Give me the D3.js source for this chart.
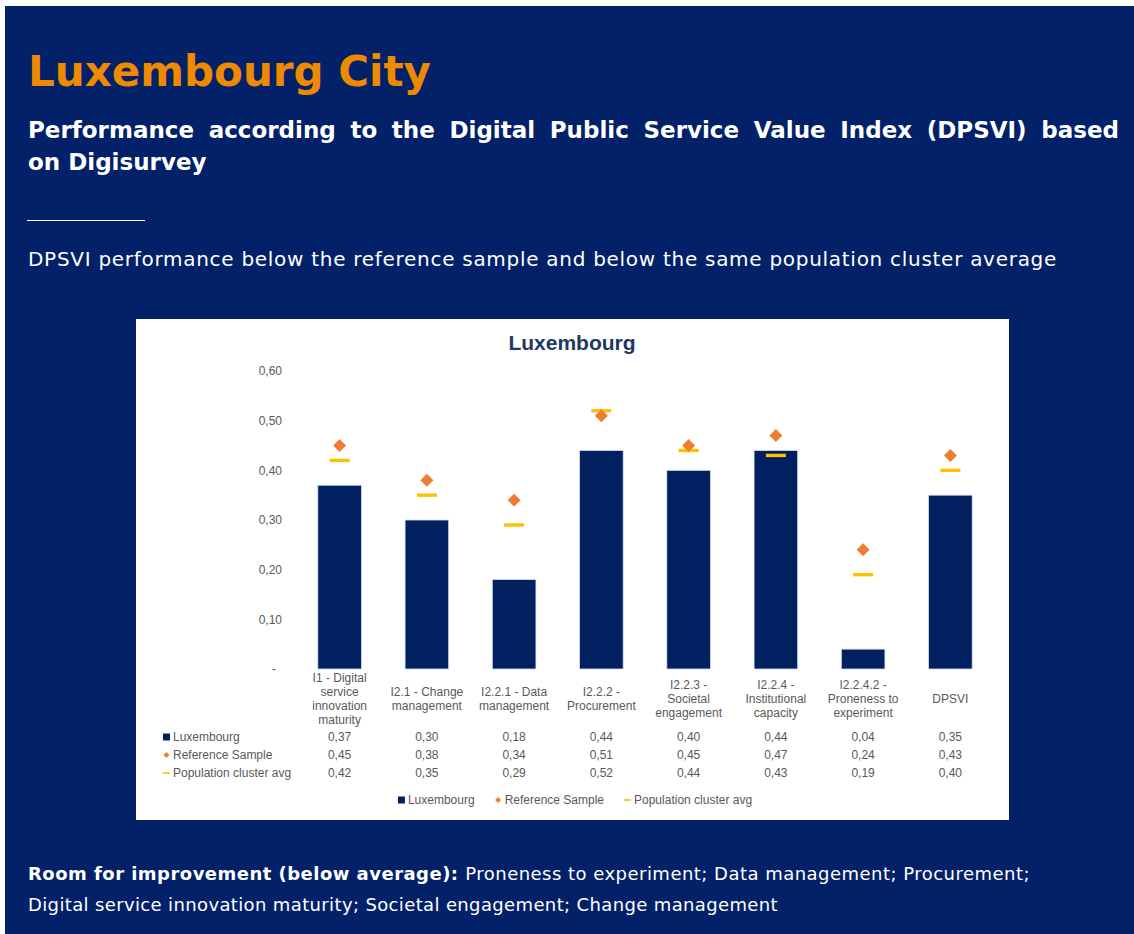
<!DOCTYPE html>
<html>
<head>
<meta charset="utf-8">
<script src="https://cdn.jsdelivr.net/npm/d3@7"></script>
<style>
  body { margin: 0; background: #fff; }
  svg { display: block; }
</style>
</head>
<body>
<svg id="page" width="1134" height="934"></svg>
<script>

// categories, one string per bar, \n marks where the axis label wraps
const categories = [
  'I1 - Digital\nservice\ninnovation\nmaturity',
  'I2.1 - Change\nmanagement',
  'I2.2.1 - Data\nmanagement',
  'I2.2.2 -\nProcurement',
  'I2.2.3 -\nSocietal\nengagement',
  'I2.2.4 -\nInstitutional\ncapacity',
  'I2.2.4.2 -\nProneness to\nexperiment',
  'DPSVI'
];
const luxembourg      = [0.37, 0.30, 0.18, 0.44, 0.40, 0.44, 0.04, 0.35];
const referenceSample = [0.45, 0.38, 0.34, 0.51, 0.45, 0.47, 0.24, 0.43];
const clusterAvg      = [0.42, 0.35, 0.29, 0.52, 0.44, 0.43, 0.19, 0.40];
const yTicks = [0, 0.1, 0.2, 0.3, 0.4, 0.5, 0.6];
const seriesNames = ['Luxembourg', 'Reference Sample', 'Population cluster avg'];

const NAVY = '#022169',
  BAR = '#002060',
  ORANGE = '#ED7D31',
  YELLOW = '#FFC000',
  GREY = '#595959',
  PAGE_FONT = '"DejaVu Sans", Verdana, sans-serif',
  CHART_FONT = '"Liberation Sans", Arial, sans-serif';

var svg = d3.select('#page');

// stretch a text line to a given width with letter spacing (the original font is wider)
function fitWidth(sel, target){
  var w = sel.node().getComputedTextLength();
  var n = sel.text().length;
  sel.attr('letter-spacing', ((target - w) / n).toFixed(3));
}

// justify a line: grow the gaps between words, shrink letters only if it overflows
function justify(sel, target){
  var w = sel.node().getComputedTextLength();
  var txt = sel.text();
  var spaces = txt.split(' ').length - 1;
  if (w <= target) sel.attr('word-spacing', ((target - w) / spaces).toFixed(3));
  else sel.attr('letter-spacing', ((target - w) / txt.length).toFixed(3));
}

// page background
svg.append('rect')
  .attr('x', 5).attr('y', 6)
  .attr('width', 1129).attr('height', 928)
  .attr('fill', NAVY);

svg.append('text')
  .attr('x', 28).attr('y', 86)
  .attr('font-family', PAGE_FONT)
  .attr('font-weight', 'bold')
  .attr('font-size', 42)
  .attr('fill', '#EE8A00')
  .text('Luxembourg City');

// subtitle, first line justified to the right margin
var sub1 = svg.append('text')
  .attr('x', 28).attr('y', 138)
  .attr('font-family', PAGE_FONT)
  .attr('font-weight', 'bold')
  .attr('font-size', 23)
  .attr('fill', '#fff')
  .text('Performance according to the Digital Public Service Value Index (DPSVI) based');
justify(sub1, 1091);

svg.append('text')
  .attr('x', 28).attr('y', 170)
  .attr('font-family', PAGE_FONT)
  .attr('font-weight', 'bold')
  .attr('font-size', 23)
  .attr('fill', '#fff')
  .text('on Digisurvey');

svg.append('line')
  .attr('x1', 27).attr('x2', 145)
  .attr('y1', 220.5).attr('y2', 220.5)
  .attr('stroke', '#fff')
  .attr('stroke-width', 1);

var desc = svg.append('text')
  .attr('x', 28).attr('y', 266)
  .attr('font-family', PAGE_FONT)
  .attr('font-size', 20)
  .attr('fill', '#fff')
  .text('DPSVI performance below the reference sample and below the same population cluster average');
fitWidth(desc, 1029);

var foot = svg.append('g')
  .attr('font-family', PAGE_FONT)
  .attr('font-size', 18)
  .attr('fill', '#fff');
var foot1 = foot.append('text').attr('x', 28).attr('y', 880);
foot1.append('tspan').attr('font-weight', 'bold').text('Room for improvement (below average): ');
foot1.append('tspan').text('Proneness to experiment; Data management; Procurement;');
fitWidth(foot1, 1002);
var foot2 = foot.append('text').attr('x', 28).attr('y', 911)
  .text('Digital service innovation maturity; Societal engagement; Change management');
fitWidth(foot2, 750);

// ---- chart ----
var chart = svg.append('g')
  .attr('font-family', CHART_FONT);

chart.append('rect')
  .attr('x', 136).attr('y', 319)
  .attr('width', 873).attr('height', 501)
  .attr('fill', '#fff');

chart.append('text')
  .attr('x', 572).attr('y', 350)
  .attr('text-anchor', 'middle')
  .attr('font-weight', 'bold')
  .attr('font-size', 21)
  .attr('fill', '#203864')
  .text('Luxembourg');

var x = d3.scaleBand()
  .domain(categories)
  .range([296, 994])
  .paddingInner(0.5)
  .paddingOuter(0.25);

var y = d3.scaleLinear()
  .domain([0, 0.6])
  .range([669, 371]);

var fmt = function(v){ return d3.format('.2f')(v).replace('.', ','); };

var yAxis = chart.append('g')
  .attr('transform', 'translate(282,0)')
  .call(d3.axisLeft(y)
    .tickValues(yTicks)
    .tickSize(0)
    .tickPadding(0)
    .tickFormat(function(d){ return d === 0 ? '-' : fmt(d); }));
yAxis.select('.domain').remove();
yAxis.selectAll('text')
  .attr('font-family', CHART_FONT)
  .attr('font-size', 12)
  .attr('fill', GREY);
yAxis.selectAll('.tick').filter(function(d){ return d === 0; })
  .select('text').attr('dx', -6);

var cx = function(i){ return x(categories[i]) + x.bandwidth() / 2; };

// bars
chart.append('g').selectAll('rect')
  .data(luxembourg)
  .join('rect')
  .attr('x', function(d, i){ return x(categories[i]); })
  .attr('y', function(d){ return y(d); })
  .attr('width', x.bandwidth())
  .attr('height', function(d){ return y(0) - y(d); })
  .attr('fill', BAR)
  .attr('stroke', '#d6deec')
  .attr('stroke-width', 0.8);

// population cluster dashes
chart.append('g').selectAll('rect')
  .data(clusterAvg)
  .join('rect')
  .attr('x', function(d, i){ return cx(i) - 10; })
  .attr('y', function(d){ return y(d) - 1.7; })
  .attr('width', 20)
  .attr('height', 3.4)
  .attr('fill', YELLOW);

// reference sample diamonds
var diamond = d3.symbol(d3.symbolSquare, 84);
chart.append('g').selectAll('path')
  .data(referenceSample)
  .join('path')
  .attr('d', diamond)
  .attr('transform', function(d, i){ return 'translate(' + cx(i) + ',' + y(d) + ') rotate(45)'; })
  .attr('fill', ORANGE);

// category labels
var catLabels = chart.append('g')
  .attr('font-size', 12)
  .attr('fill', GREY)
  .attr('text-anchor', 'middle')
  .selectAll('text')
  .data(categories)
  .join('text')
  .attr('x', function(d){ return x(d) + x.bandwidth() / 2; })
  .attr('y', function(d){ return 699 - (d.split('\n').length - 1) * 7 + 4; });
catLabels.each(function(d){
  var t = d3.select(this);
  d.split('\n').forEach(function(line, k){
    t.append('tspan')
      .attr('x', t.attr('x'))
      .attr('dy', k === 0 ? 0 : 14)
      .text(line);
  });
});

// key glyphs shared by data table and legend
function keyGlyph(g, k){
  if (k === 0) {
    g.append('rect').attr('x', 0).attr('y', -3.5).attr('width', 7).attr('height', 7).attr('fill', BAR);
  } else if (k === 1) {
    g.append('path').attr('d', d3.symbol(d3.symbolSquare, 18)).attr('transform', 'translate(3.5,0) rotate(45)').attr('fill', ORANGE);
  } else {
    g.append('rect').attr('x', 0).attr('y', -0.8).attr('width', 7).attr('height', 1.6).attr('fill', YELLOW);
  }
}

// data table
var tableRows = [luxembourg, referenceSample, clusterAvg];
var rowY = [737, 755, 773];
tableRows.forEach(function(vals, k){
  var row = chart.append('g')
    .attr('font-size', 12)
    .attr('fill', GREY);
  var key = row.append('g').attr('transform', 'translate(163,' + rowY[k] + ')');
  keyGlyph(key, k);
  row.append('text')
    .attr('x', 173).attr('y', rowY[k] + 4)
    .text(seriesNames[k]);
  row.selectAll('text.val')
    .data(vals)
    .join('text')
    .attr('class', 'val')
    .attr('x', function(d, i){ return cx(i); })
    .attr('y', rowY[k] + 4)
    .attr('text-anchor', 'middle')
    .text(fmt);
});

// legend
var legend = chart.append('g')
  .attr('font-size', 12)
  .attr('fill', GREY);
var lx = 0;
seriesNames.forEach(function(name, k){
  var item = legend.append('g').attr('transform', 'translate(' + lx + ',0)');
  keyGlyph(item, k);
  var t = item.append('text').attr('x', 10).attr('y', 4).text(name);
  lx += 10 + t.node().getComputedTextLength() + 20;
});
lx -= 20;
legend.attr('transform', 'translate(' + (575 - lx / 2) + ',800)');

</script>
</body>
</html>
